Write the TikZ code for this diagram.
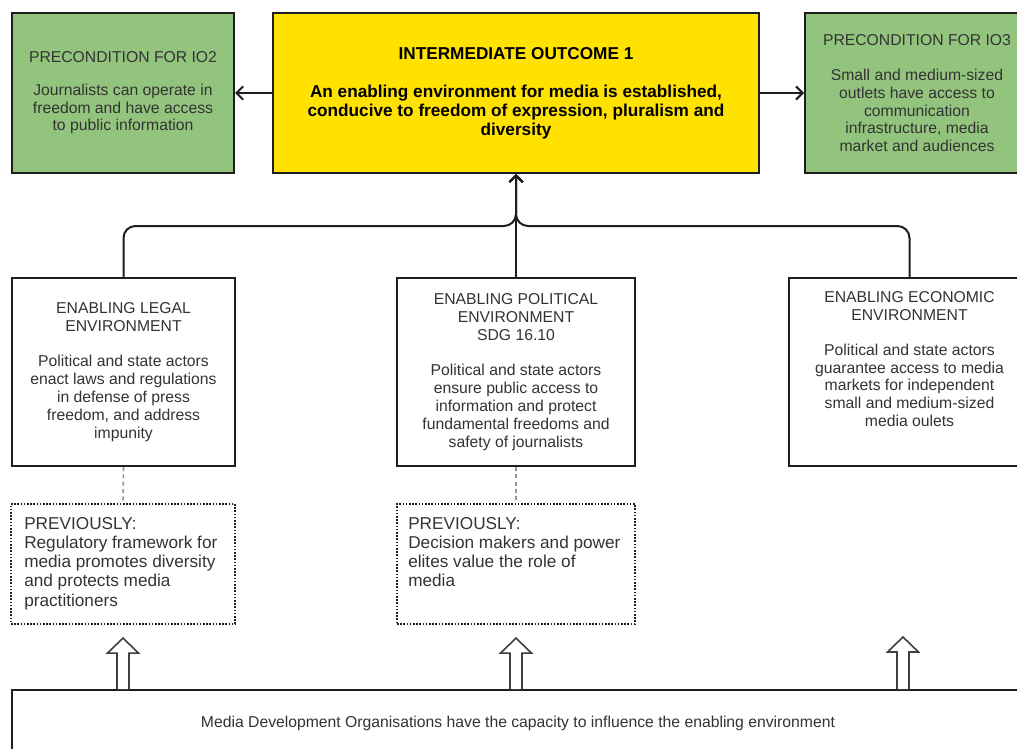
\documentclass[tikz,border=0pt]{standalone}
\usepackage{fontspec}
\setmainfont{Liberation Sans}
\usetikzlibrary{arrows.meta,calc}
\definecolor{boxgreen}{RGB}{147,196,125}
\definecolor{boxyellow}{RGB}{255,226,0}
\definecolor{txtgray}{RGB}{51,51,51}
\definecolor{linedark}{RGB}{30,30,30}
\definecolor{dashgray}{RGB}{150,150,150}
\newcommand\mybodyfont{\fontsize{11.8}{13.4}\selectfont}
\newcommand\myboldfont{\fontsize{12.9}{14.3}\selectfont\bfseries}
\newcommand\myprevfont{\fontsize{12.9}{14.4}\selectfont}
\newcommand\hollowarrow[2]{%
  \draw[hollow] let \p1=(#1), \p2=(#2) in
    (\x1-4.5pt,\y2) -- (\x1-4.5pt,\y1-21pt) -- (\x1-11.6pt,\y1-21pt) --
    (\x1,\y1-9.75pt) -- (\x1+11.6pt,\y1-21pt) -- (\x1+4.5pt,\y1-21pt) -- (\x1+4.5pt,\y2);}
\begin{document}
\begin{tikzpicture}[x=0.75pt,y=-0.75pt,
  box/.style={draw=linedark, line width=1.5pt, rectangle, inner sep=0pt,
    align=center, text=txtgray, font=\mybodyfont},
  prevbox/.style={draw=linedark, line width=1.6pt, rectangle, inner sep=0pt,
    dash pattern=on 1.2pt off 1.2pt},
  prevtext/.style={anchor=north west, inner sep=0pt, align=left, text=txtgray, font=\myprevfont},
  conn/.style={draw=linedark, line width=1.5pt, -{Straight Barb[length=5pt,width=10pt]}},
  dashconn/.style={draw=dashgray, line width=1.2pt, dash pattern=on 3pt off 2.5pt},
  hollow/.style={draw=linedark!85, line width=1.2pt, fill=white, line join=miter}
]
\useasboundingbox (0,0) rectangle (1017,749);
\clip (0,0) rectangle (1017,749);

% top row
\node[box, fill=boxgreen, minimum width=222*0.75pt, minimum height=160*0.75pt] (p2) at (123,93)
  {PRECONDITION FOR IO2\\[11pt]Journalists can operate in\\freedom and have access\\to public information};
\node[box, fill=boxyellow, text=black, font=\myboldfont, minimum width=486*0.75pt, minimum height=160*0.75pt] (io1) at (516,93)
  {INTERMEDIATE OUTCOME 1\\[14pt]An enabling environment for media is established,\\conducive to freedom of expression, pluralism and\\diversity};
\node[box, fill=boxgreen, minimum width=224*0.75pt, minimum height=160*0.75pt] (p3) at (917,93)
  {PRECONDITION FOR IO3\\[13pt]Small and medium-sized\\outlets have access to\\communication\\infrastructure, media\\market and audiences};

% middle row
\node[box, fill=white, minimum width=223*0.75pt, minimum height=188*0.75pt] (legal) at (123.5,372)
  {ENABLING LEGAL\\ENVIRONMENT\\[13pt]Political and state actors\\enact laws and regulations\\in defense of press\\freedom, and address\\impunity};
\node[box, fill=white, minimum width=238*0.75pt, minimum height=188*0.75pt] (pol) at (516,372)
  {ENABLING POLITICAL\\ENVIRONMENT\\SDG 16.10\\[13pt]Political and state actors\\ensure public access to\\information and protect\\fundamental freedoms and\\safety of journalists};
\node[box, fill=white, minimum width=241*0.75pt, minimum height=188*0.75pt] (eco) at (909.5,372) {};
\node[align=center, inner sep=0pt, text=txtgray, font=\mybodyfont] (ecotext) at (909.5,359)
  {ENABLING ECONOMIC\\ENVIRONMENT\\[13pt]Political and state actors\\guarantee access to media\\markets for independent\\small and medium-sized\\media oulets};

% previously boxes
\node[prevbox, minimum width=224*0.75pt, minimum height=120*0.75pt] (prevlegal) at (123,564) {};
\node[prevtext] (prevlegaltext) at (24,517)
  {PREVIOUSLY:\\Regulatory framework for\\media promotes diversity\\and protects media\\practitioners};
\node[prevbox, minimum width=238*0.75pt, minimum height=120*0.75pt] (prevpol) at (516,564) {};
\node[prevtext] (prevpoltext) at (408,517)
  {PREVIOUSLY:\\Decision makers and power\\elites value the role of\\media};

% bottom box
\node[box, fill=white, minimum width=1012*0.75pt, minimum height=66*0.75pt] (mdo) at (518,723)
  {Media Development Organisations have the capacity to influence the enabling environment};
\coordinate (ecoarrow) at (903,624);

% connectors
\draw[conn] (io1.west) -- (p2.east);
\draw[conn] (io1.east) -- (p3.west);
\draw[conn, rounded corners=9pt] (legal.north) |- (516,226) -- (io1.south);
\draw[conn, rounded corners=9pt] (eco.north) |- (516,226) -- (io1.south);
\draw[conn] (pol.north) -- (io1.south);
\draw[dashconn] (legal.south) -- (prevlegal.north);
\draw[dashconn] (pol.south) -- (prevpol.north);

% hollow arrows
\hollowarrow{prevlegal.south}{mdo.north}
\hollowarrow{prevpol.south}{mdo.north}
\hollowarrow{ecoarrow}{mdo.north}
\end{tikzpicture}
\end{document}
